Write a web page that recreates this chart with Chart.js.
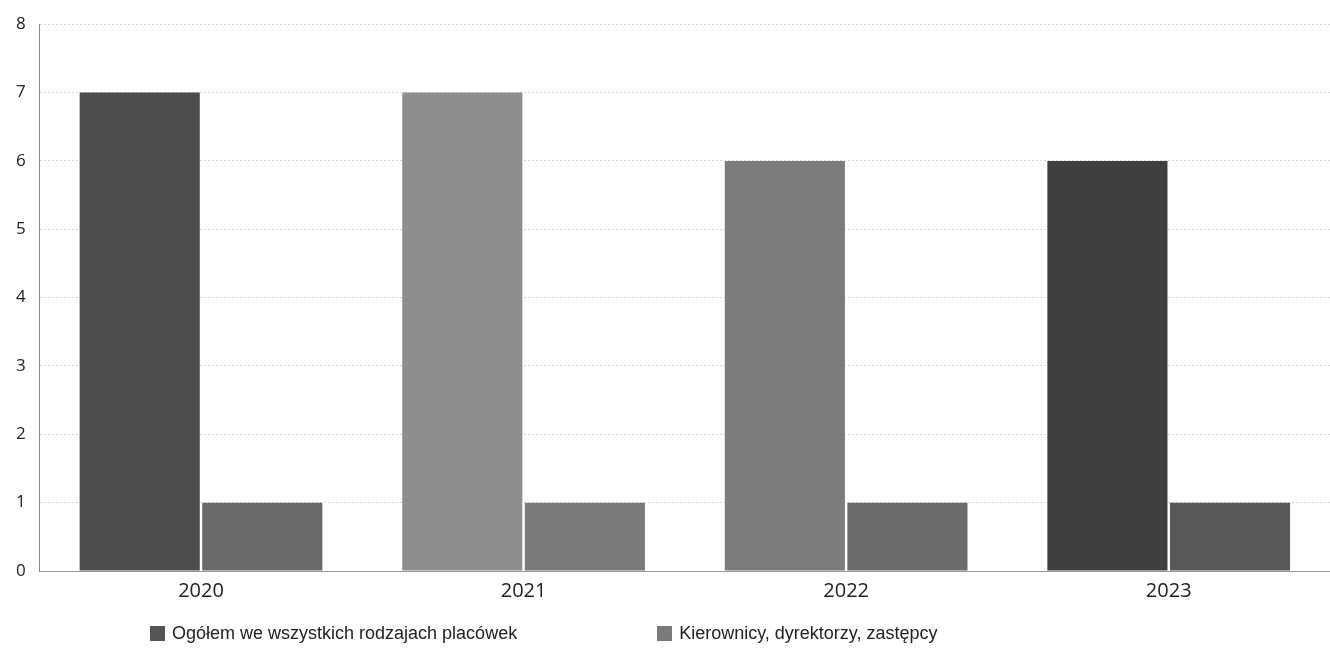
<!DOCTYPE html>
<html>
<head>
<meta charset="utf-8">
<script src="https://cdn.jsdelivr.net/npm/chart.js@4/dist/chart.umd.min.js"></script>
<style>
  html, body { margin: 0; padding: 0; background: #fff; }
  #wrap { position: relative; width: 1330px; height: 648px; }
  #legend { position: absolute; left: 150px; top: 623px; display: flex; gap: 140px;
            font: 18px "Liberation Sans", Arial, sans-serif; color: #222; }
  #legend .item { display: flex; align-items: center; white-space: nowrap; }
  #legend .box { width: 15px; height: 15px; margin-right: 7px; display: inline-block; }
</style>
</head>
<body>
<div id="wrap">
  <canvas id="chart"></canvas>
  <div id="legend"></div>
</div>
<script>
// Placówki oświatowe — grouped bars, scanned grey look
const years = ["2020", "2021", "2022", "2023"];
const ogolem = [7, 7, 6, 6];
const kierownicy = [1, 1, 1, 1];
const seriesNames = ["Ogółem we wszystkich rodzajach placówek", "Kierownicy, dyrektorzy, zastępcy"];
const yTicks = [0, 1, 2, 3, 4, 5, 6, 7, 8];

// the scan leaves every bar a slightly different grey
const greysA = ["#4d4d4d", "#8e8e8e", "#7c7c7c", "#3f3f3f"];
const greysB = ["#6a6a6a", "#7a7a7a", "#6c6c6c", "#585858"];
const legendGreys = ["#555", "#7a7a7a"];

new Chart(document.getElementById("chart"), {
  type: "bar",
  data: {
    labels: years,
    datasets: [
      { label: seriesNames[0], data: ogolem, backgroundColor: greysA, borderWidth: 0 },
      { label: seriesNames[1], data: kierownicy, backgroundColor: greysB, borderWidth: 0 }
    ]
  },
  options: {
    responsive: true,
    maintainAspectRatio: false,
    animation: false,
    layout: { padding: { top: 12, right: 0, left: 2, bottom: 45 } },
    datasets: { bar: { categoryPercentage: 0.76, barPercentage: 0.98 } },
    plugins: {
      legend: { display: false },
      tooltip: { enabled: false }
    },
    scales: {
      x: {
        grid: { display: false },
        border: { display: true, color: "#999", dash: [2, 2] },
        ticks: { color: "#222", font: { family: "Open Sans", size: 20 }, padding: 0 }
      },
      y: {
        min: 0, max: 8,
        afterBuildTicks: (s) => { s.ticks = yTicks.map(v => ({ value: v })); },
        grid: { color: "#d6d6d6", lineWidth: 1, drawTicks: false },
        border: { display: true, color: "#888", dash: [2, 2] },
        ticks: { color: "#222", font: { family: "Open Sans", size: 17 }, padding: 14 }
      }
    }
  }
});

// legend drawn as html so the spacing follows the scan
const legend = document.getElementById("legend");
seriesNames.forEach((name, i) => {
  const item = document.createElement("div");
  item.className = "item";
  const box = document.createElement("span");
  box.className = "box";
  box.style.background = legendGreys[i];
  item.appendChild(box);
  item.appendChild(document.createTextNode(name));
  legend.appendChild(item);
});
</script>
</body>
</html>
